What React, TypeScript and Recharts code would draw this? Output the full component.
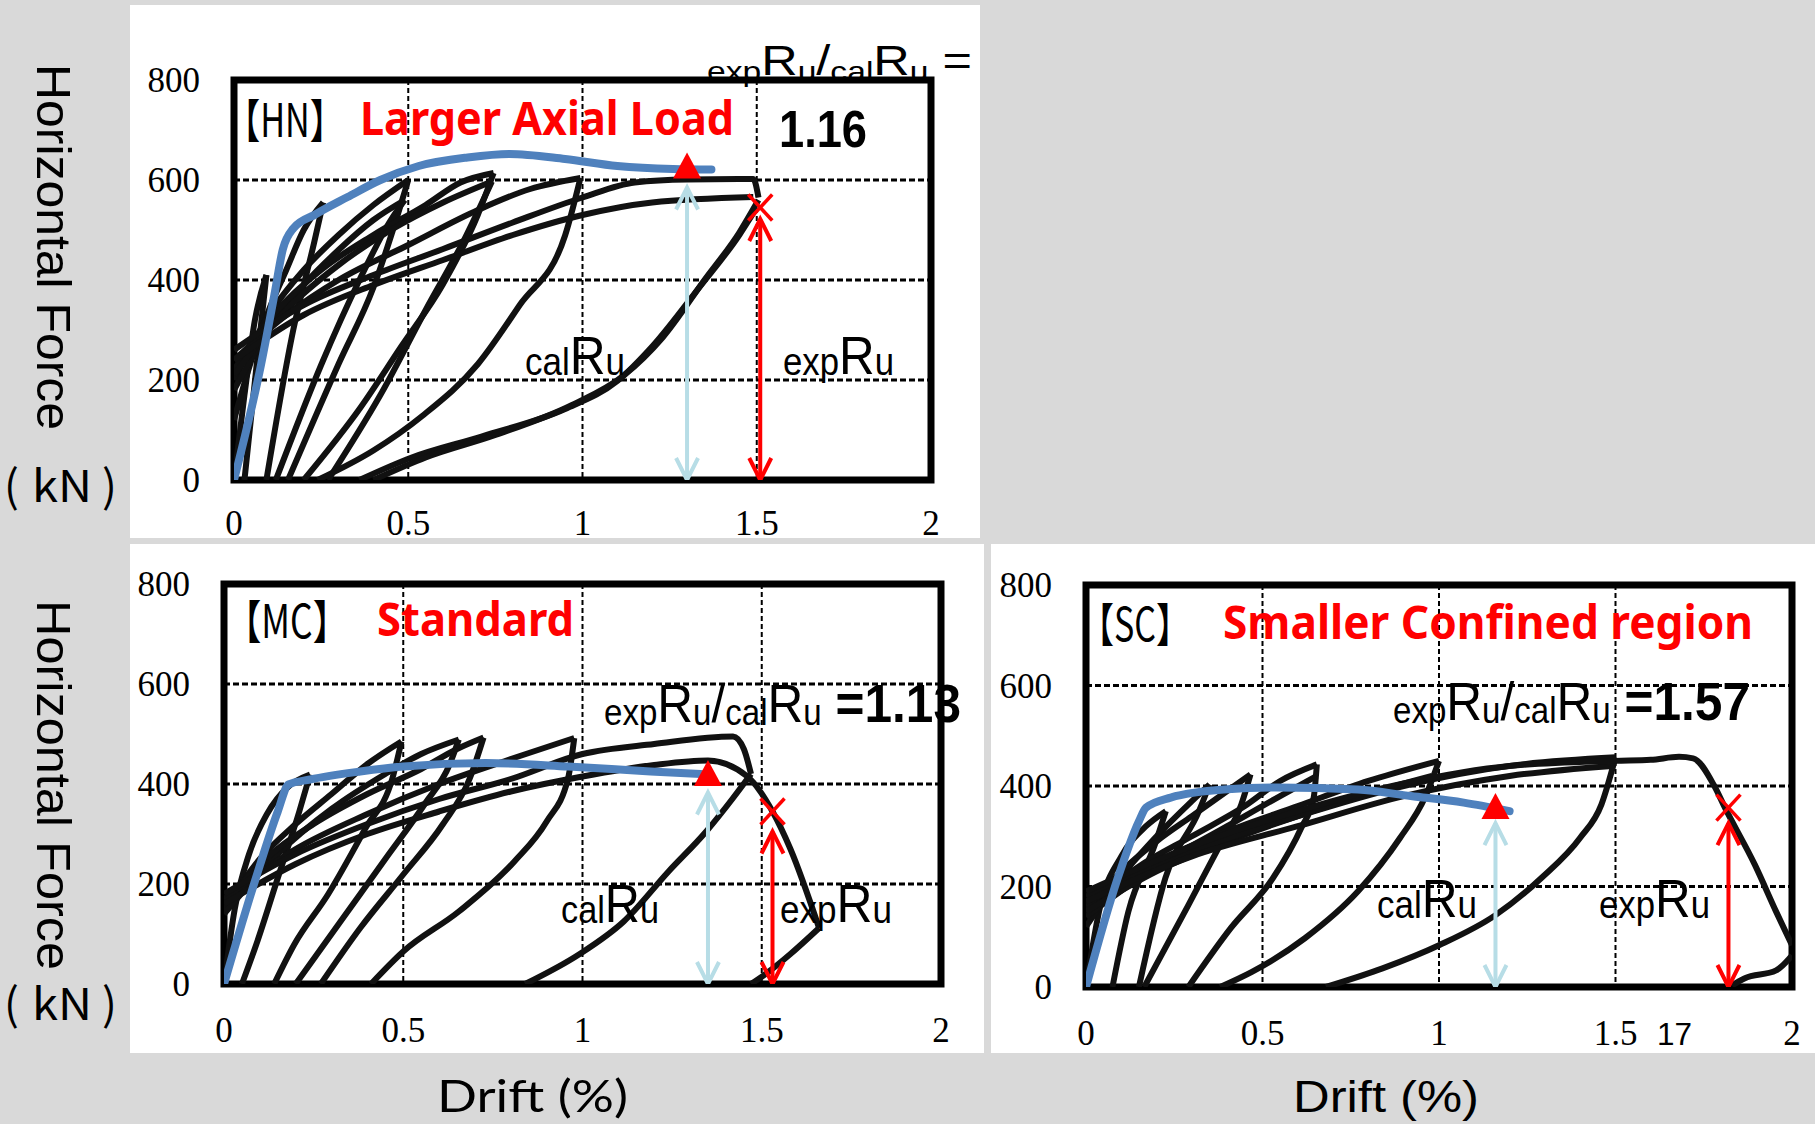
import React from 'react';
import { ComposedChart, Line, Scatter, XAxis, YAxis, CartesianGrid, ReferenceArea } from 'recharts';

type Pt = [number, number];

// drift (%) ticks and horizontal force (kN) ticks
const driftTicks = [0, 0.5, 1, 1.5, 2];
const forceTicks = [0, 200, 400, 600, 800];

// ---- HN : larger axial load ----
const hnLoad1: Pt[] = [[0, 0], [0.03, 170], [0.06, 320], [0.093, 410]];
const hnUnload1: Pt[] = [[0.03, 0], [0.06, 198], [0.093, 410]];
const hnLoad2: Pt[] = [[0, 120], [0.05, 240], [0.1, 340], [0.15, 420], [0.2, 500], [0.256, 555]];
const hnUnload2: Pt[] = [[0.093, 0], [0.17, 300], [0.23, 475], [0.256, 555]];
const hnLoad3: Pt[] = [[0, 200], [0.1, 330], [0.2, 420], [0.3, 490], [0.4, 550], [0.5, 600]];
const hnLoad3b: Pt[] = [[0, 180], [0.1, 300], [0.2, 390], [0.3, 460], [0.4, 520], [0.49, 560]];
const hnUnload3: Pt[] = [[0.155, 0], [0.3, 232], [0.4, 385], [0.47, 531], [0.5, 600]];
const hnUnload3b: Pt[] = [[0.12, 0], [0.25, 230], [0.36, 400], [0.45, 520], [0.49, 560]];
const hnLoad4: Pt[] = [[0, 220], [0.1, 320], [0.25, 420], [0.4, 490], [0.55, 550], [0.65, 595], [0.745, 614]];
const hnLoad4b: Pt[] = [[0, 210], [0.15, 340], [0.3, 430], [0.45, 500], [0.6, 555], [0.74, 597]];
const hnUnload4: Pt[] = [[0.2, 0], [0.36, 142], [0.48, 267], [0.6, 392], [0.7, 531], [0.745, 614]];
const hnUnload4b: Pt[] = [[0.27, 0], [0.42, 170], [0.55, 340], [0.66, 480], [0.74, 597]];
const hnLoad5: Pt[] = [[0, 240], [0.15, 330], [0.3, 400], [0.5, 470], [0.7, 540], [0.85, 582], [0.994, 604]];
const hnUnload5: Pt[] = [[0.24, 0], [0.4, 59], [0.54, 128], [0.7, 232], [0.82, 350], [0.95, 489], [0.994, 604]];
const hnLoad6: Pt[] = [[0, 260], [0.2, 350], [0.4, 410], [0.6, 462], [0.8, 515], [1.0, 565], [1.15, 595], [1.3, 601], [1.49, 602], [1.505, 565]];
const hnLoad6b: Pt[] = [[0, 240], [0.2, 330], [0.4, 390], [0.6, 440], [0.8, 490], [1.0, 530], [1.2, 555], [1.49, 566]];
const hnUnload6: Pt[] = [[0.36, 0], [0.51, 45], [0.71, 87], [0.95, 142], [1.1, 198], [1.2, 267], [1.335, 385], [1.45, 490], [1.5, 545]];
const hnUnload6b: Pt[] = [[0.4, 0], [0.55, 45], [0.75, 90], [0.97, 150], [1.12, 210], [1.23, 285], [1.35, 400], [1.45, 495], [1.505, 560]];
const hnEnvelope: Pt[] = [[0, 0], [0.078, 232], [0.116, 371], [0.14, 461], [0.17, 503], [0.233, 531], [0.326, 566], [0.42, 600], [0.53, 628], [0.67, 645], [0.79, 652], [0.95, 642], [1.1, 628], [1.26, 622], [1.37, 621]];

// ---- MC : standard ----
const mcLoad1: Pt[] = [[0, 0], [0.03, 150], [0.07, 260], [0.12, 340], [0.18, 395], [0.24, 419]];
const mcUnload1: Pt[] = [[0.05, 0], [0.09, 79], [0.15, 212], [0.21, 345], [0.24, 419]];
const mcLoad2: Pt[] = [[0, 150], [0.1, 250], [0.2, 320], [0.3, 380], [0.4, 440], [0.495, 485]];
const mcUnload2: Pt[] = [[0.14, 0], [0.196, 79], [0.29, 179], [0.395, 312], [0.47, 412], [0.495, 485]];
const mcLoad3: Pt[] = [[0, 140], [0.15, 260], [0.3, 350], [0.45, 420], [0.55, 460], [0.655, 489]];
const mcLoad3b: Pt[] = [[0, 160], [0.1, 240], [0.25, 320], [0.4, 380], [0.55, 430], [0.65, 470], [0.724, 493]];
const mcUnload3: Pt[] = [[0.27, 0], [0.38, 112], [0.5, 219], [0.61, 319], [0.686, 412], [0.724, 493]];
const mcUnload3b: Pt[] = [[0.2, 0], [0.32, 120], [0.45, 250], [0.56, 360], [0.63, 440], [0.655, 489]];
const mcLoad4: Pt[] = [[0, 170], [0.2, 270], [0.4, 340], [0.6, 400], [0.8, 450], [0.977, 492]];
const mcUnload4: Pt[] = [[0.41, 0], [0.5, 65], [0.655, 145], [0.81, 245], [0.9, 325], [0.96, 412], [0.977, 492]];
const mcLoad5: Pt[] = [[0, 180], [0.2, 260], [0.4, 320], [0.6, 370], [0.8, 410], [1.0, 460], [1.2, 480], [1.42, 495], [1.45, 470], [1.47, 420]];
const mcUnload5: Pt[] = [[0.84, 0], [0.99, 59], [1.115, 125], [1.24, 225], [1.345, 305], [1.42, 372], [1.47, 420]];
const mcLoad6: Pt[] = [[0, 160], [0.2, 240], [0.4, 300], [0.6, 345], [0.8, 385], [1.0, 415], [1.2, 438], [1.35, 447], [1.46, 415], [1.53, 345], [1.58, 270], [1.66, 112]];
const mcUnload6: Pt[] = [[1.47, 0], [1.52, 25], [1.58, 60], [1.66, 112]];
const mcEnvelope: Pt[] = [[0, 0], [0.089, 212], [0.15, 345], [0.18, 399], [0.24, 409], [0.38, 425], [0.5, 435], [0.73, 442], [0.96, 435], [1.19, 425], [1.33, 420]];

// ---- SC : smaller confined region ----
const scLoad1: Pt[] = [[0, 0], [0.04, 160], [0.1, 260], [0.17, 320], [0.226, 350]];
const scUnload1: Pt[] = [[0.075, 0], [0.12, 150], [0.195, 283], [0.226, 350]];
const scLoad2: Pt[] = [[0, 120], [0.1, 220], [0.2, 300], [0.3, 370], [0.35, 403]];
const scUnload2: Pt[] = [[0.15, 0], [0.225, 217], [0.32, 350], [0.35, 403]];
const scLoad3: Pt[] = [[0, 150], [0.1, 230], [0.2, 290], [0.3, 340], [0.4, 390], [0.466, 423]];
const scUnload3: Pt[] = [[0.165, 0], [0.29, 163], [0.38, 283], [0.44, 363], [0.466, 423]];
const scLoad4: Pt[] = [[0, 160], [0.15, 240], [0.3, 300], [0.45, 360], [0.55, 410], [0.654, 443]];
const scLoad4b: Pt[] = [[0, 140], [0.2, 240], [0.4, 320], [0.55, 380], [0.654, 420]];
const scUnload4: Pt[] = [[0.29, 0], [0.41, 117], [0.53, 217], [0.61, 317], [0.645, 377], [0.654, 443]];
const scLoad5: Pt[] = [[0, 170], [0.2, 250], [0.4, 310], [0.6, 360], [0.8, 410], [1.0, 450]];
const scLoad5b: Pt[] = [[0, 150], [0.2, 230], [0.4, 290], [0.6, 340], [0.8, 385], [0.98, 420]];
const scUnload5: Pt[] = [[0.38, 0], [0.47, 30], [0.62, 97], [0.77, 190], [0.89, 297], [0.96, 377], [1.0, 450]];
const scLoad6: Pt[] = [[0, 180], [0.3, 270], [0.6, 340], [0.9, 400], [1.2, 440], [1.5, 457]];
const scLoad6b: Pt[] = [[0, 170], [0.3, 260], [0.6, 320], [0.9, 380], [1.2, 420], [1.49, 440]];
const scUnload6: Pt[] = [[0.68, 0], [0.84, 37], [1.0, 83], [1.16, 143], [1.29, 217], [1.4, 297], [1.46, 363], [1.5, 457]];
const scLoad7: Pt[] = [[0, 190], [0.3, 280], [0.6, 350], [0.9, 405], [1.2, 440], [1.5, 450], [1.6, 452], [1.68, 458], [1.72, 455], [1.78, 400], [1.81, 357], [1.895, 243], [1.955, 150], [2.0, 83]];
const scUnload7: Pt[] = [[1.83, 3], [1.865, 17], [1.955, 33], [2.0, 63]];
const scEnvelope: Pt[] = [[0, 0], [0.09, 217], [0.15, 330], [0.17, 357], [0.24, 377], [0.39, 393], [0.54, 397], [0.77, 393], [0.92, 380], [1.07, 367], [1.2, 350]];

// ultimate drifts: calculated (triangle) and experimental (cross), with force levels
const hnCal = { drift: 1.30, force: 627, arrowTop: 585 };
const hnExp = { drift: 1.51, force: 545, arrowTop: 522 };
const mcCal = { drift: 1.35, force: 420, arrowTop: 383 };
const mcExp = { drift: 1.53, force: 345, arrowTop: 305 };
const scCal = { drift: 1.16, force: 358, arrowTop: 326 };
const scExp = { drift: 1.82, force: 357, arrowTop: 326 };

const hnLoops = [hnLoad1, hnUnload1, hnLoad2, hnUnload2, hnLoad3, hnLoad3b, hnUnload3, hnUnload3b, hnLoad4, hnLoad4b, hnUnload4, hnUnload4b, hnLoad5, hnUnload5, hnLoad6, hnLoad6b, hnUnload6, hnUnload6b];
const mcLoops = [mcLoad1, mcUnload1, mcLoad2, mcUnload2, mcLoad3, mcLoad3b, mcUnload3, mcUnload3b, mcLoad4, mcUnload4, mcLoad5, mcUnload5, mcLoad6, mcUnload6];
const scLoops = [scLoad1, scUnload1, scLoad2, scUnload2, scLoad3, scUnload3, scLoad4, scLoad4b, scUnload4, scLoad5, scLoad5b, scUnload5, scLoad6, scLoad6b, scUnload6, scLoad7, scUnload7];

const toRows = (pts: Pt[]) => pts.map(([x, y]) => ({ x, y }));

const BLUE = '#4f81bd';
const LIGHT_BLUE = '#b7dde6';
const RED = '#ff0000';

const ML = 110;
const MT = 40;
const MR = 40;
const MB = 70;

const Triangle = (props: any) => {
  const { cx, cy } = props;
  return <polygon points={`${cx - 14},${cy + 12} ${cx + 14},${cy + 12} ${cx},${cy - 14}`} fill={RED} />;
};

const Cross = (props: any) => {
  const { cx, cy } = props;
  return (
    <g stroke={RED} strokeWidth={3.5}>
      <line x1={cx - 12} y1={cy - 13} x2={cx + 12} y2={cy + 13} />
      <line x1={cx + 12} y1={cy - 13} x2={cx - 12} y2={cy + 13} />
    </g>
  );
};

// open chevrons on both ends of a vertical double arrow
const arrowHead = (color: string) => (props: any) => {
  const { cx, cy, index } = props;
  const dir = index === 0 ? 1 : -1;
  return (
    <path
      key={`head-${index}`}
      d={`M${cx - 11},${cy - dir * 22} L${cx},${cy} L${cx + 11},${cy - dir * 22}`}
      fill="none"
      stroke={color}
      strokeWidth={4}
    />
  );
};

interface Box { left: number; top: number; right: number; bottom: number }
interface Mark { drift: number; force: number; arrowTop: number }

const Panel = ({ box, loops, envelope, cal, exp, gapX }: { box: Box; loops: Pt[][]; envelope: Pt[]; cal: Mark; exp: Mark; gapX: number }) => {
  const w = box.right - box.left + ML + MR;
  const h = box.bottom - box.top + MT + MB;
  const tick = { fontFamily: 'Liberation Serif', fontSize: 35, fill: '#000' };
  return (
    <div style={{ position: 'absolute', left: box.left - ML, top: box.top - MT }}>
      <ComposedChart width={w} height={h} margin={{ top: MT, right: MR, bottom: 10, left: 50 }}>
        <XAxis type="number" dataKey="x" domain={[0, 2]} ticks={driftTicks} height={60} axisLine={false} tickLine={false} tickSize={0} tickMargin={gapX} tick={tick} allowDataOverflow />
        <YAxis type="number" dataKey="y" domain={[0, 800]} ticks={forceTicks} width={60} axisLine={false} tickLine={false} tickSize={0} tickMargin={34} tick={tick} allowDataOverflow />
        <CartesianGrid vertical={false} stroke="#000" strokeWidth={3} strokeDasharray="6 3" />
        <CartesianGrid horizontal={false} stroke="#000" strokeWidth={2} strokeDasharray="5 3" />
        {loops.map((pts, i) => (
          <Line key={`loop-${i}`} data={toRows(pts)} dataKey="y" type="monotone" stroke="#111" strokeWidth={6} dot={false} isAnimationActive={false} />
        ))}
        <Line data={toRows(envelope)} dataKey="y" type="monotone" stroke={BLUE} strokeWidth={8} strokeLinecap="round" dot={false} isAnimationActive={false} />
        <Line data={[{ x: cal.drift, y: 0 }, { x: cal.drift, y: cal.arrowTop }]} dataKey="y" type="linear" stroke={LIGHT_BLUE} strokeWidth={4} dot={arrowHead(LIGHT_BLUE)} isAnimationActive={false} />
        <Line data={[{ x: exp.drift, y: 0 }, { x: exp.drift, y: exp.arrowTop }]} dataKey="y" type="linear" stroke={RED} strokeWidth={4} dot={arrowHead(RED)} isAnimationActive={false} />
        <Scatter data={[{ x: cal.drift, y: cal.force }]} shape={Triangle} isAnimationActive={false} />
        <Scatter data={[{ x: exp.drift, y: exp.force }]} shape={Cross} isAnimationActive={false} />
        <ReferenceArea x1={0} x2={2} y1={0} y2={800} fill="none" stroke="#000" strokeWidth={7} ifOverflow="visible" />
      </ComposedChart>
    </div>
  );
};

const NARROW = 'Liberation Sans';
const CJK = 'Noto Sans CJK JP';

// subscript-style "expRu", "calRu" and ratio texts
const RuText = ({ x, y, width, big, small, subDy, parts }: { x: number; y: number; width: number; big: number; small: number; subDy: number; parts: { t: string; sub?: boolean; bold?: boolean }[] }) => {
  let shift = 0;
  return (
    <text x={x} y={y} fontFamily={NARROW} fill="#000" textLength={width} lengthAdjust="spacingAndGlyphs">
      {parts.map((p, i) => {
        const dy = (p.sub ? subDy : 0) - shift;
        shift = p.sub ? subDy : 0;
        return (
          <tspan key={i} fontSize={p.sub ? small : big} fontWeight={p.bold ? 700 : 400} dy={dy}>{p.t}</tspan>
        );
      })}
    </text>
  );
};

const ratioParts = (tail: string) => [
  { t: 'exp', sub: true }, { t: 'R' }, { t: 'u', sub: true }, { t: '/' },
  { t: 'cal', sub: true }, { t: 'R' }, { t: 'u', sub: true }, { t: tail, bold: tail.length > 2 },
];

const ratio = (e: Mark, c: Mark) => (e.drift / c.drift).toFixed(2);

// "（kN）" unit split so the brackets sit apart from the letters
const Unit = ({ y }: { y: number }) => (
  <g fontFamily={CJK} fill="#000">
    <text x={4} y={y} fontSize={44}>(</text>
    <text x={32} y={y} fontSize={44} textLength={60} lengthAdjust="spacingAndGlyphs">kN</text>
    <text x={102} y={y} fontSize={44}>)</text>
  </g>
);

const Title = ({ x, y, tag, tagWidth, name, nameX, nameWidth }: { x: number; y: number; tag: string; tagWidth: number; name: string; nameX: number; nameWidth: number }) => (
  <g>
    <text x={x} y={y} fontFamily={CJK} fontSize={46} textLength={tagWidth} lengthAdjust="spacingAndGlyphs">{`【${tag}】`}</text>
    <text x={nameX} y={y - 2} fontFamily="Noto Sans" fontWeight={700} fontSize={46} fill={RED} textLength={nameWidth} lengthAdjust="spacingAndGlyphs">{name}</text>
  </g>
);

const Labels = () => (
  <svg width={1815} height={1124} style={{ position: 'absolute', left: 0, top: 0, pointerEvents: 'none' }}>
    {/* axis titles */}
    <text transform="translate(37,64) rotate(90)" fontFamily={NARROW} fontSize={48} textLength={366} lengthAdjust="spacingAndGlyphs">Horizontal Force</text>
    <Unit y={502} />
    <text transform="translate(37,600) rotate(90)" fontFamily={NARROW} fontSize={48} textLength={370} lengthAdjust="spacingAndGlyphs">Horizontal Force</text>
    <Unit y={1020} />
    <text x={437} y={1112} fontFamily="Lato" fontSize={45} textLength={191} lengthAdjust="spacingAndGlyphs">Drift (%)</text>
    <text x={1293} y={1112} fontFamily={NARROW} fontSize={44} textLength={186} lengthAdjust="spacingAndGlyphs">Drift (%)</text>

    {/* HN */}
    <Title x={226} y={137} tag="HN" tagWidth={118} name="Larger Axial Load" nameX={360} nameWidth={374} />
    <RuText x={707} y={75} width={265} big={42} small={28} subDy={6} parts={ratioParts(' =')} />
    <text x={779} y={147} fontFamily={NARROW} fontWeight={700} fontSize={51} textLength={88} lengthAdjust="spacingAndGlyphs">{ratio(hnExp, hnCal)}</text>
    <RuText x={525} y={374} width={100} big={54} small={38} subDy={1} parts={[{ t: 'cal', sub: true }, { t: 'R' }, { t: 'u', sub: true }]} />
    <RuText x={783} y={374} width={111} big={54} small={38} subDy={1} parts={[{ t: 'exp', sub: true }, { t: 'R' }, { t: 'u', sub: true }]} />

    {/* MC */}
    <Title x={226} y={638} tag="MC" tagWidth={122} name="Standard" nameX={377} nameWidth={197} />
    <RuText x={604} y={722} width={357} big={54} small={36} subDy={3} parts={ratioParts(` =${ratio(mcExp, mcCal)}`)} />
    <RuText x={561} y={922} width={98} big={54} small={38} subDy={1} parts={[{ t: 'cal', sub: true }, { t: 'R' }, { t: 'u', sub: true }]} />
    <RuText x={780} y={922} width={112} big={54} small={38} subDy={1} parts={[{ t: 'exp', sub: true }, { t: 'R' }, { t: 'u', sub: true }]} />

    {/* SC */}
    <Title x={1080} y={641} tag="SC" tagWidth={110} name="Smaller Confined region" nameX={1223} nameWidth={530} />
    <RuText x={1393} y={720} width={357} big={54} small={36} subDy={3} parts={ratioParts(` =${ratio(scExp, scCal)}`)} />
    <RuText x={1377} y={917} width={100} big={54} small={38} subDy={1} parts={[{ t: 'cal', sub: true }, { t: 'R' }, { t: 'u', sub: true }]} />
    <RuText x={1599} y={917} width={111} big={54} small={38} subDy={1} parts={[{ t: 'exp', sub: true }, { t: 'R' }, { t: 'u', sub: true }]} />
    <text x={1657} y={1045} fontFamily={NARROW} fontSize={31} textLength={35} lengthAdjust="spacingAndGlyphs">17</text>
  </svg>
);

const App = () => (
  <div style={{ position: 'absolute', left: 0, top: 0, width: 1815, height: 1124, background: '#d9d9d9', overflow: 'hidden' }}>
    <div style={{ position: 'absolute', left: 130, top: 5, width: 850, height: 533, background: '#fff' }} />
    <div style={{ position: 'absolute', left: 130, top: 544, width: 854, height: 509, background: '#fff' }} />
    <div style={{ position: 'absolute', left: 991, top: 544, width: 824, height: 509, background: '#fff' }} />
    <Panel box={{ left: 234, top: 80, right: 931, bottom: 480 }} loops={hnLoops} envelope={hnEnvelope} cal={hnCal} exp={hnExp} gapX={30} />
    <Panel box={{ left: 224, top: 584, right: 941, bottom: 984 }} loops={mcLoops} envelope={mcEnvelope} cal={mcCal} exp={mcExp} gapX={33} />
    <Panel box={{ left: 1086, top: 585, right: 1792, bottom: 987 }} loops={scLoops} envelope={scEnvelope} cal={scCal} exp={scExp} gapX={33} />
    <Labels />
  </div>
);

export default App;
